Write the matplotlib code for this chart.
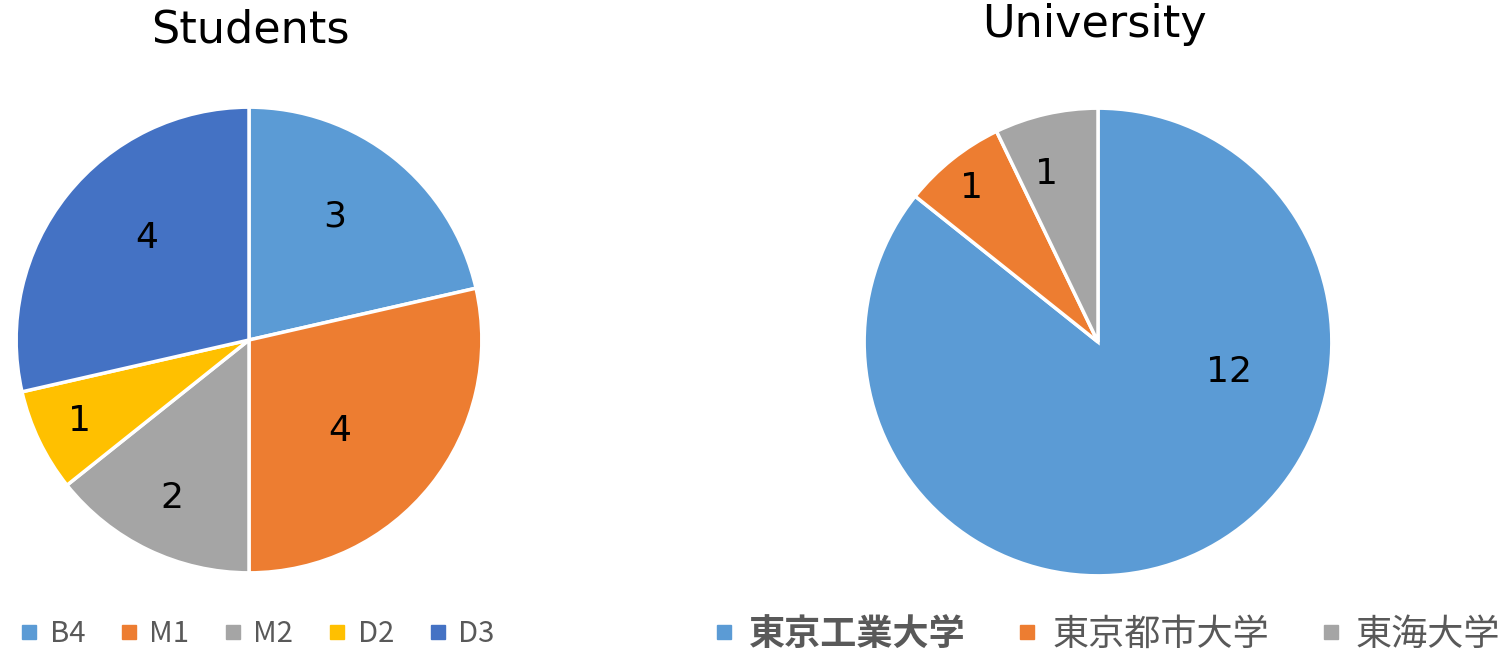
import matplotlib.pyplot as plt
from matplotlib.lines import Line2D

plt.rcParams['font.family'] = ['Noto Sans CJK JP', 'DejaVu Sans']

# Datos
grados = ['B4', 'M1', 'M2', 'D2', 'D3']
alumnos = [3, 4, 2, 1, 4]
colores_grados = ['#5B9BD5', '#ED7D31', '#A5A5A5', '#FFC000', '#4472C4']

universidades = ['東京工業大学', '東京都市大学', '東海大学']
alumnos_univ = [12, 1, 1]
colores_univ = ['#5B9BD5', '#ED7D31', '#A5A5A5']

# Posiciones de las etiquetas dentro de cada pastel (como en Excel)
pos_grados = [(0.37, 0.53), (0.39, -0.39), (-0.33, -0.68), (-0.73, -0.35), (-0.44, 0.44)]
pos_univ = [(0.56, -0.13), (-0.54, 0.66), (-0.22, 0.72)]

W, H = 1502, 653
fig = plt.figure(figsize=(W / 100, H / 100), dpi=100)


def pie_axes(cx, cy, r):
    # cx, cy en pixeles desde arriba-izquierda
    return fig.add_axes([(cx - r) / W, 1 - (cy + r) / H, 2 * r / W, 2 * r / H])


def dibujar(ax, valores, colores, posiciones):
    wedges, textos, numeros = ax.pie(
        valores, colors=colores, startangle=90, counterclock=False, radius=1,
        wedgeprops=dict(edgecolor='white', linewidth=2.5),
        autopct=lambda p: f'{round(p * sum(valores) / 100):d}',
        textprops=dict(fontsize=26, color='black', family=['DejaVu Sans']))
    for t, p in zip(numeros, posiciones):
        t.set_position(p)
    ax.set_xlim(-1.005, 1.005)
    ax.set_ylim(-1.005, 1.005)
    ax.set_aspect('equal')
    ax.axis('off')


ax1 = pie_axes(249, 340, 234)
dibujar(ax1, alumnos, colores_grados, pos_grados)
ax2 = pie_axes(1098, 342, 235)
dibujar(ax2, alumnos_univ, colores_univ, pos_univ)

fig.text(250 / W, 1 - 30 / H, 'Students', ha='center', va='center', fontsize=32,
         color='black', family=['DejaVu Sans'])
fig.text(1095 / W, 1 - 25 / H, 'University', ha='center', va='center', fontsize=32,
         color='black', family=['DejaVu Sans'])


def leyenda(etiquetas, colores, cx, tam, espacio, negrita=None):
    hs = [Line2D([], [], marker='s', linestyle='', markersize=10, color=c) for c in colores]
    leg = fig.legend(hs, etiquetas, loc='center', bbox_to_anchor=(cx / W, 1 - 634 / H),
                     ncol=len(etiquetas), frameon=False, fontsize=tam, handletextpad=0.3,
                     columnspacing=espacio, handlelength=0.8, labelcolor='#595959')
    if negrita is not None:
        leg.get_texts()[negrita].set_fontweight('bold')
    return leg


leyenda(grados, colores_grados, 256, 21, 1.1)
leyenda(universidades, colores_univ, 1105, 26, 1.3, negrita=0)

plt.savefig('out.png', dpi=100)
